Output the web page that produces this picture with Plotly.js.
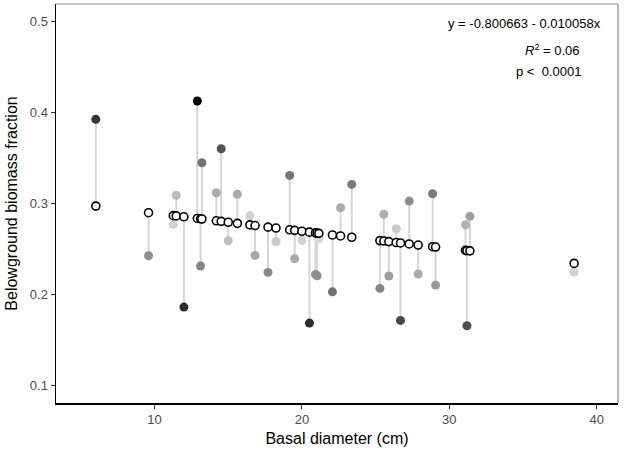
<!DOCTYPE html>
<html>
<head>
<meta charset="utf-8">
<script src="https://cdn.plot.ly/plotly-3.0.1.min.js"></script>
<style>
  body { margin: 0; background: #fff; }
  #plot { width: 625px; height: 449px; }
</style>
</head>
<body>
<div id="plot"></div>
<script>
// basal diameter (cm) of each tree
var diameter = [6.01, 9.59, 11.27, 11.47, 11.99, 12.90, 13.12, 13.21, 14.19, 14.52,
  15.00, 15.62, 16.47, 16.82, 17.70, 18.24, 19.17, 19.51, 20.00, 20.51,
  20.92, 21.03, 21.15, 22.07, 22.62, 23.38, 25.29, 25.56, 25.90, 26.40,
  26.69, 27.28, 27.89, 28.87, 29.07, 31.10, 31.20, 31.40, 38.47];

// observed belowground biomass fraction
var observed = [0.3925, 0.2423, 0.2769, 0.3088, 0.1858, 0.4127, 0.2310, 0.3447, 0.3117, 0.3601,
  0.2588, 0.3099, 0.2863, 0.2427, 0.2240, 0.2577, 0.3308, 0.2390, 0.2592, 0.1682,
  0.2218, 0.2203, 0.2610, 0.2026, 0.2952, 0.3209, 0.2064, 0.2879, 0.2200, 0.2720,
  0.1711, 0.3025, 0.2221, 0.3106, 0.2100, 0.2764, 0.1652, 0.2857, 0.2243];

// fitted values from the model
var fitted = [0.2970, 0.2897, 0.2865, 0.2862, 0.2852, 0.2834, 0.2830, 0.2828, 0.2808, 0.2802,
  0.2792, 0.2780, 0.2763, 0.2756, 0.2738, 0.2728, 0.2709, 0.2703, 0.2693, 0.2683,
  0.2675, 0.2673, 0.2670, 0.2652, 0.2641, 0.2627, 0.2590, 0.2585, 0.2579, 0.2569,
  0.2564, 0.2553, 0.2541, 0.2523, 0.2519, 0.2482, 0.2480, 0.2477, 0.2339];

var xTicks = [10, 20, 30, 40];
var yTicks = [0.1, 0.2, 0.3, 0.4, 0.5];

// segments observed -> fitted
var segX = [], segY = [], resid = [];
for (var i = 0; i < diameter.length; i++) {
  segX.push(diameter[i], diameter[i], null);
  segY.push(observed[i], fitted[i], null);
  resid.push(Math.abs(observed[i] - fitted[i]));
}

var traces = [
  {
    x: segX, y: segY, mode: 'lines', type: 'scatter',
    line: { color: '#d6d6d6', width: 2 }, hoverinfo: 'skip'
  },
  {
    x: diameter, y: observed, mode: 'markers', type: 'scatter',
    marker: {
      size: 9, color: resid, cmin: 0, cmax: 0.125,
      colorscale: [[0, '#e4e4e4'], [1, '#000000']],
      line: { width: 0 }
    }
  },
  {
    x: diameter, y: fitted, mode: 'markers', type: 'scatter',
    marker: { size: 8, color: '#ffffff', line: { color: '#000000', width: 1.6 } }
  }
];

var layout = {
  width: 625, height: 449,
  margin: { l: 56, r: 7, t: 4, b: 46 },
  showlegend: false,
  paper_bgcolor: '#fff', plot_bgcolor: '#fff',
  font: { family: 'Liberation Sans, Arial, sans-serif', color: '#4d4d4d', size: 13 },
  xaxis: {
    range: [3.31, 41.45], tickvals: xTicks, ticktext: xTicks.map(String),
    showgrid: false, zeroline: false,
    showline: true, linecolor: '#000', linewidth: 1.5,
    ticks: 'outside', ticklen: 4, tickcolor: '#333', tickwidth: 1,
    title: { text: 'Basal diameter (cm)', font: { size: 16, color: '#000' }, standoff: 6 }
  },
  yaxis: {
    range: [0.0802, 0.5195], tickvals: yTicks, ticktext: yTicks.map(String),
    showgrid: false, zeroline: false,
    showline: true, linecolor: '#000', linewidth: 1.5,
    ticks: 'outside', ticklen: 4, tickcolor: '#333', tickwidth: 1,
    title: { text: 'Belowground biomass fraction', font: { size: 16, color: '#000' }, standoff: 8 }
  },
  shapes: [
    { type: 'line', xref: 'paper', yref: 'paper', x0: 0, x1: 1, y0: 1, y1: 1,
      line: { color: '#8a8a8a', width: 1.2 }, layer: 'below' },
    { type: 'line', xref: 'paper', yref: 'paper', x0: 1, x1: 1, y0: 0, y1: 1,
      line: { color: '#8a8a8a', width: 1.2 }, layer: 'below' }
  ],
  annotations: [
    { xref: 'paper', yref: 'paper', x: 0.974, y: 0.952, xanchor: 'right', yanchor: 'middle',
      text: 'y = -0.800663 - 0.010058x', showarrow: false, font: { size: 13, color: '#000' } },
    { xref: 'paper', yref: 'paper', x: 0.884, y: 0.885, xanchor: 'center', yanchor: 'middle',
      text: '<i>R</i><sup>2</sup> = 0.06', showarrow: false, font: { size: 13, color: '#000' } },
    { xref: 'paper', yref: 'paper', x: 0.876, y: 0.832, xanchor: 'center', yanchor: 'middle',
      text: 'p &lt;  0.0001', showarrow: false, font: { size: 13, color: '#000' } }
  ]
};

Plotly.newPlot('plot', traces, layout, { displayModeBar: false, staticPlot: true });
</script>
</body>
</html>
